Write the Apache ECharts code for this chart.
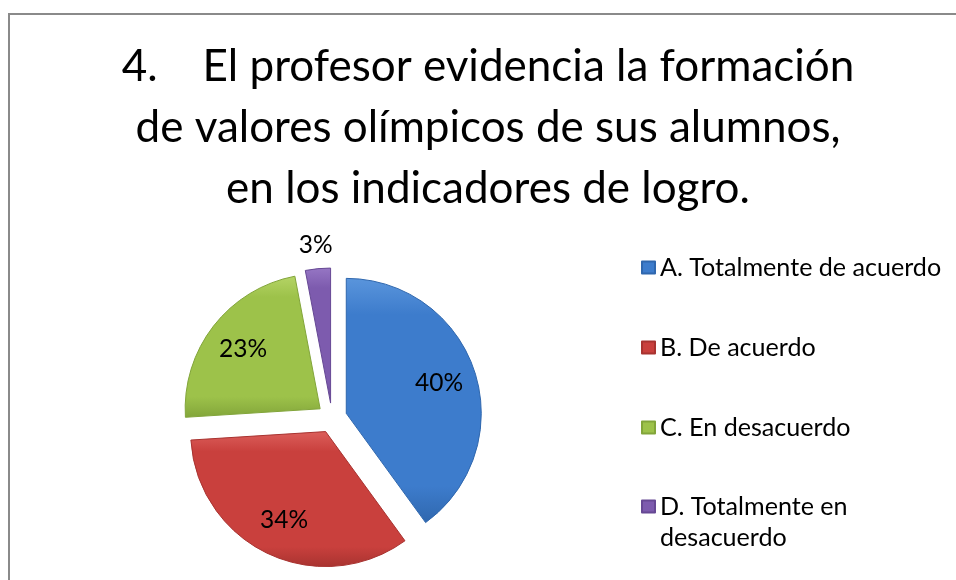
<!DOCTYPE html>
<html>
<head>
<meta charset="utf-8">
<script src="https://cdn.jsdelivr.net/npm/echarts@6/dist/echarts.min.js"></script>
<style>
html,body{margin:0;padding:0;background:#fff;}
#chart{width:956px;height:580px;}
</style>
</head>
<body>
<div id="chart"></div>
<script>
const titleLines = [
  '4.    El profesor evidencia la formación',
  'de valores olímpicos de sus alumnos,',
  'en los indicadores de logro.'
];
const categories = [
  'A. Totalmente de acuerdo',
  'B. De acuerdo',
  'C. En desacuerdo',
  'D. Totalmente en desacuerdo'
];
const values = [40, 34, 23, 3];
const legendLabels = [
  'A. Totalmente de acuerdo',
  'B. De acuerdo',
  'C. En desacuerdo',
  ' \nD. Totalmente en\ndesacuerdo'
];
const colors = [
  ['#5a95dc', '#3d7ccc', '#2f67ae'],
  ['#dc5f5b', '#c9403d', '#a83330'],
  ['#b5d466', '#9dc24a', '#82a53a'],
  ['#9676c4', '#7d5bae', '#664894']
];
const FONT = 'Lato, "Noto Sans", sans-serif';

function grad(c) {
  return {
    type: 'linear', x: 0, y: 0, x2: 0, y2: 1,
    colorStops: [
      { offset: 0, color: c[0] },
      { offset: 0.15, color: c[1] },
      { offset: 0.85, color: c[1] },
      { offset: 1, color: c[2] }
    ]
  };
}

const pieData = categories.map((n, i) => ({
  name: n,
  value: values[i],
  selected: true,
  itemStyle: { color: grad(colors[i]), borderColor: colors[i][2], borderWidth: 1 }
}));

const labelData = categories.map((n, i) => ({
  name: n,
  value: values[i],
  selected: true,
  label: { show: i < 3 }
}));

const outerLabelData = categories.map((n, i) => ({
  name: n,
  value: values[i],
  selected: true,
  label: { show: i === 3 }
}));

const legendMap = {};
categories.forEach((c, i) => legendMap[c] = legendLabels[i]);

const chart = echarts.init(document.getElementById('chart'), null, { renderer: 'canvas' });
const center = [332, 418];
const R = 135;
const OFF = 15;
const LEG_FS = 25.1;

chart.setOption({
  animation: false,
  backgroundColor: '#ffffff',
  graphic: [{
    type: 'rect',
    shape: { x: 9, y: 14, width: 1000, height: 700 },
    style: { fill: 'none', stroke: '#8a8a8a', lineWidth: 2 },
    silent: true
  }],
  title: {
    text: titleLines.join('\n'),
    left: 488,
    top: 36,
    textAlign: 'center',
    padding: 0,
    textStyle: {
      fontFamily: FONT,
      fontSize: 44,
      fontWeight: 'normal',
      color: '#000',
      lineHeight: 61
    }
  },
  legend: [{
    orient: 'vertical',
    left: 641,
    top: 252,
    padding: 0,
    itemGap: 49,
    itemWidth: 13,
    itemHeight: 12,
    icon: 'rect',
    selectedMode: false,
    data: categories.slice(0, 3),
    formatter: n => legendMap[n],
    textStyle: { fontFamily: FONT, fontSize: LEG_FS, color: '#000', lineHeight: 31 }
  }, {
    orient: 'vertical',
    left: 641,
    top: 460,
    padding: 0,
    itemWidth: 13,
    itemHeight: 12,
    icon: 'rect',
    selectedMode: false,
    data: categories.slice(3),
    formatter: n => legendMap[n],
    textStyle: { fontFamily: FONT, fontSize: LEG_FS, color: '#000', lineHeight: 31 }
  }],
  series: [{
    type: 'pie',
    center: center,
    radius: R,
    startAngle: 90,
    clockwise: true,
    selectedMode: 'multiple',
    selectedOffset: OFF,
    silent: true,
    label: { show: false },
    labelLine: { show: false },
    emphasis: { disabled: true },
    data: pieData
  }, {
    type: 'pie',
    center: center,
    radius: [R * 0.4, R],
    startAngle: 90,
    clockwise: true,
    selectedMode: 'multiple',
    selectedOffset: OFF,
    silent: true,
    itemStyle: { color: 'rgba(0,0,0,0)' },
    label: {
      show: true, position: 'inside', rotate: 0,
      fontFamily: FONT, fontSize: 24.5, color: '#000',
      formatter: p => p.value + '%'
    },
    labelLine: { show: false },
    emphasis: { disabled: true },
    data: labelData
  }, {
    type: 'pie',
    center: center,
    radius: [R + 15, R + 27],
    startAngle: 90,
    clockwise: true,
    selectedMode: 'multiple',
    selectedOffset: OFF,
    silent: true,
    itemStyle: { color: 'rgba(0,0,0,0)' },
    label: {
      show: true, position: 'inside', rotate: 0,
      fontFamily: FONT, fontSize: 24.5, color: '#000',
      formatter: p => p.value + '%'
    },
    labelLine: { show: false },
    emphasis: { disabled: true },
    data: outerLabelData
  }]
});
</script>
</body>
</html>
